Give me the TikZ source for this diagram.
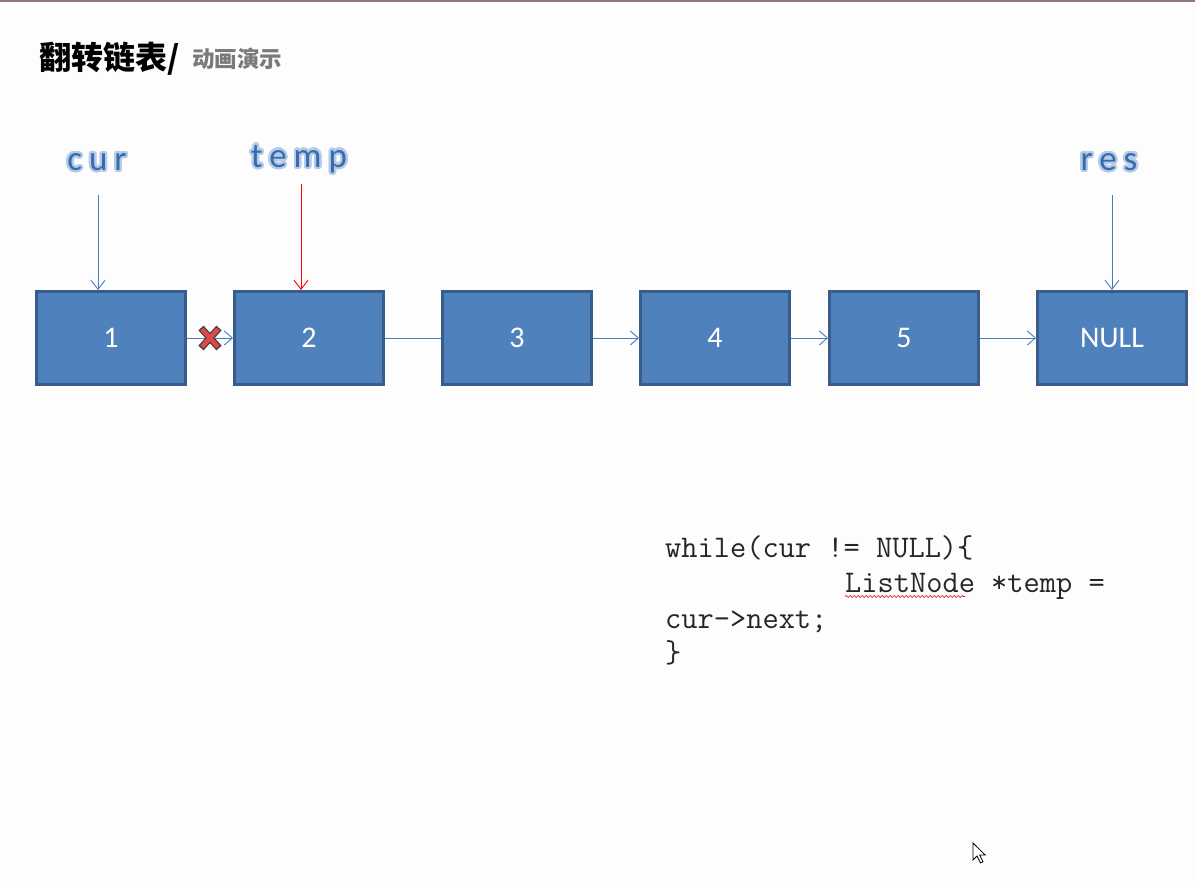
\documentclass[tikz,border=0pt]{standalone}
\usepackage{fontspec}
\setmainfont{Carlito}
\newfontfamily\cjk{Noto Sans CJK SC}
\newfontfamily\lab{Carlito}[LetterSpace=20]
\usepackage{contour}
\contournumber{24}
\usetikzlibrary{arrows.meta,decorations.pathmorphing}
\definecolor{boxfill}{HTML}{4F81BD}
\definecolor{boxline}{HTML}{385D8A}
\definecolor{arr}{HTML}{4A7EBB}
\definecolor{labfill}{HTML}{3A6BAC}
\definecolor{labout}{HTML}{B4CCEA}
\definecolor{bg}{HTML}{FDFDFD}
\definecolor{xred}{HTML}{E04848}
\tikzset{
  lnode/.style={draw=boxline, line width=3pt, fill=boxfill, minimum width=149pt, minimum height=93pt, text=white, font=\fontsize{30}{34}\selectfont, inner sep=0pt},
  link/.style={arr, line width=0.9pt, -{Straight Barb[length=8pt,width=14pt,line width=0.9pt]}},
  plainlink/.style={arr, line width=0.9pt},
  ptr/.style={arr, line width=0.9pt, -{Straight Barb[length=9pt,width=14pt,line width=0.9pt]}},
  ptrred/.style={ptr, draw=red!80!black, red},
  varlabel/.style={font=\lab\fontsize{35}{38}\selectfont, inner sep=0pt},
  code/.style={font=\ttfamily\fontsize{31.5}{34}\selectfont, anchor=base west, inner sep=0pt, text=black!85},
}
\newcommand{\varlab}[1]{\contourlength{2.2pt}\contour{labout}{\textcolor{labfill}{#1}}}
\begin{document}
\begin{tikzpicture}[x=1pt,y=-1pt]
\fill[bg] (0,0) rectangle (1195,881);
\useasboundingbox (0,0) rectangle (1195,881);
\fill[gray!75!red!60!black!70] (0,0) rectangle (1195,2);
% title
\node[anchor=base west, inner sep=0pt, font=\cjk\bfseries\fontsize{32}{34}\selectfont] (title) at (39,69) {翻转链表/};
\node[anchor=base west, inner sep=0pt, font=\cjk\bfseries\fontsize{22.5}{26}\selectfont, text=black!52] (sub) at (192,67) {动画演示};
% list nodes
\node[lnode] (n1) at (111,338) {1};
\node[lnode] (n2) at (309,338) {2};
\node[lnode] (n3) at (517,338) {3};
\node[lnode] (n4) at (715,338) {4};
\node[lnode] (n5) at (904,338) {5};
\node[lnode] (n6) at (1112,338) {NULL};
% links
\draw[link] (n1.east) -- (n2.west);
\draw[plainlink] (n2.east) -- (n3.west);
\draw[link] (n3.east) -- (n4.west);
\draw[link] (n4.east) -- (n5.west);
\draw[link] (n5.east) -- (n6.west);
% cross mark
\coordinate (xm) at (210,338);
\draw[black!75, line width=7pt] ([shift={(-9,-10)}]xm) -- ([shift={(9,10)}]xm) ([shift={(-9,10)}]xm) -- ([shift={(9,-10)}]xm);
\draw[xred, line width=4.5pt] ([shift={(-8,-9)}]xm) -- ([shift={(8,9)}]xm) ([shift={(-8,9)}]xm) -- ([shift={(8,-9)}]xm);
% pointer labels
\node[varlabel] (lcur) at (97,163) {\varlab{cur}};
\node[varlabel] (ltemp) at (299,160) {\varlab{temp}};
\node[varlabel] (lres) at (1109,163) {\varlab{res}};
\coordinate (pc) at (98,195);
\coordinate (pt) at (301,184);
\coordinate (pr) at (1112,195);
\draw[ptr] (pc) -- (pc |- n1.north);
\draw[ptrred] (pt) -- (pt |- n2.north);
\draw[ptr] (pr) -- (pr |- n6.north);
% code
\node[code] (c1) at (665,557) {while(cur != NULL)\{};
\node[code] (c2) at (845,592) {ListNode *temp =};
\node[code] (c3) at (665,628) {cur->next;};
\node[code] (c4) at (665,662) {\}};
\coordinate (wa) at (845,596.5);
\coordinate (wb) at (965,596.5);
\draw[red!85!black, line width=0.6pt, decorate, decoration={snake, amplitude=1pt, segment length=4pt}] (wa) -- (wb);
% mouse cursor
\coordinate (cu) at (973,843);
\draw[black, fill=white, line width=0.8pt, line join=miter] (cu) -- ++(0,17) -- ++(4,-4) -- ++(3.5,7) -- ++(2.5,-1.2) -- ++(-3.4,-6.8) -- ++(5.6,0) -- cycle;
\end{tikzpicture}
\end{document}
